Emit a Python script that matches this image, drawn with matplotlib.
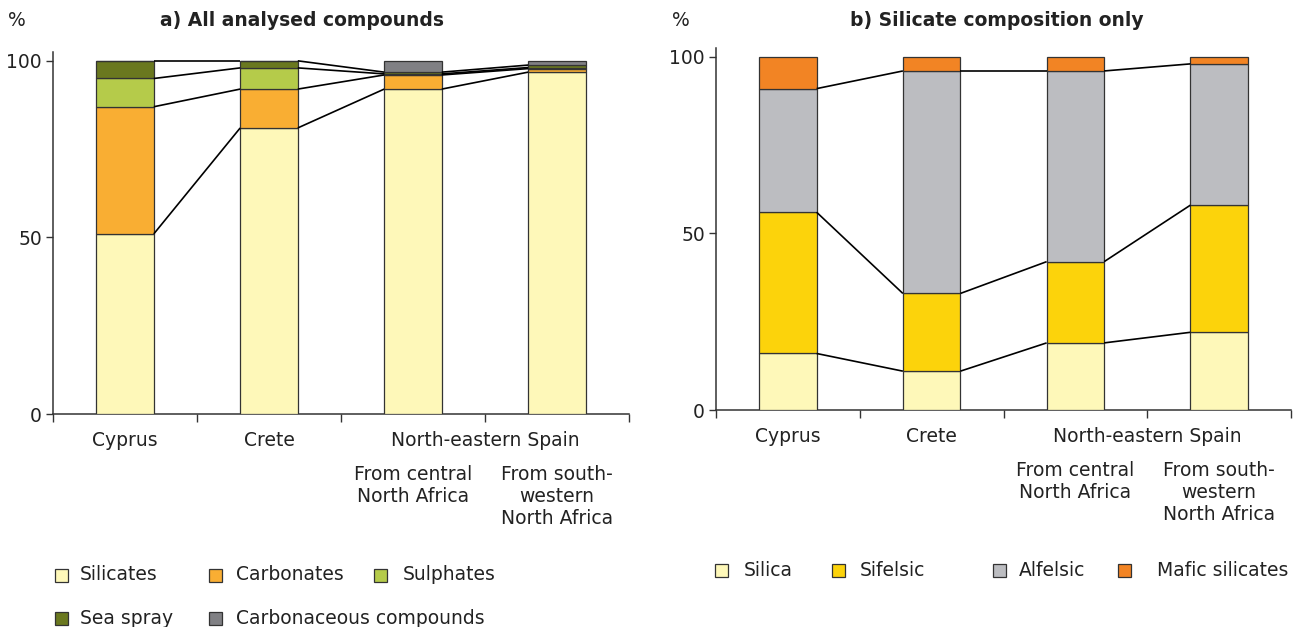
import matplotlib
matplotlib.use("Agg")
import matplotlib.pyplot as plt
from matplotlib.patches import Rectangle
import numpy as np

plt.rcParams['font.family'] = ['DejaVu Sans']

# ---------------- data ----------------
categories = ["Cyprus", "Crete", "From central\nNorth Africa", "From south-\nwestern\nNorth Africa"]
group_label = "North-eastern Spain"

# a) All analysed compounds (%)
silicates     = [51.0, 81.0, 92.0, 96.8]
carbonates    = [36.0, 11.0, 4.0, 1.0]
sulphates     = [8.0, 6.0, 0.3, 0.3]
sea_spray     = [5.0, 2.0, 0.5, 0.7]
carbonaceous  = [0.0, 0.0, 3.2, 1.2]
series_a = [silicates, carbonates, sulphates, sea_spray, carbonaceous]
names_a = ["Silicates", "Carbonates", "Sulphates", "Sea spray", "Carbonaceous compounds"]
colors_a = ["#FEF8B9", "#F9AE33", "#B5CB4A", "#6A781F", "#808084"]

# b) Silicate composition only (%)
silica   = [16.0, 11.0, 19.0, 22.0]
sifelsic = [40.0, 22.0, 23.0, 36.0]
alfelsic = [35.0, 63.0, 54.0, 40.0]
mafic    = [9.0, 4.0, 4.0, 2.0]
series_b = [silica, sifelsic, alfelsic, mafic]
names_b = ["Silica", "Sifelsic", "Alfelsic", "Mafic silicates"]
colors_b = ["#FEF8B9", "#FCD30B", "#BCBDC1", "#F28424"]

yticks = [0, 50, 100]

W, H = 1301, 627
fig = plt.figure(figsize=(W / 100, H / 100), dpi=100)

FS = 13.5
TXT = "#222222"
EDGE = "#333333"
BARW = 0.4


def px_axes(left, right, y0, ytop):
    return [left / W, 1 - y0 / H, (right - left) / W, (y0 - ytop) / H]


def draw(ax, series, colors):
    x = np.arange(len(categories))
    bottom = np.zeros(len(categories))
    tops = []
    for vals, c in zip(series, colors):
        v = np.array(vals)
        ax.bar(x, v, BARW, bottom=bottom, color=c, edgecolor=EDGE, linewidth=0.9, zorder=3)
        bottom = bottom + v
        tops.append(bottom.copy())
    # connector lines between consecutive bars (all boundaries except the last series)
    for t in tops[:-1]:
        for i in range(len(x) - 1):
            ax.plot([x[i] + BARW / 2, x[i + 1] - BARW / 2], [t[i], t[i + 1]],
                    color="black", linewidth=1.2, zorder=4, solid_capstyle="butt")
    ax.set_xlim(-0.5, len(categories) - 0.5)
    ax.set_ylim(0, 102.5)
    ax.set_yticks(yticks)
    ax.set_yticklabels([str(v) for v in yticks], fontsize=FS, color=TXT)
    ax.set_xticks(np.arange(len(categories) + 1) - 0.5)
    ax.set_xticklabels([])
    ax.tick_params(axis="y", length=5, width=1, color="#333333", pad=3)
    ax.tick_params(axis="x", length=6, width=1, color="#333333")
    for s in ["top", "right"]:
        ax.spines[s].set_visible(False)
    for s in ["left", "bottom"]:
        ax.spines[s].set_color("#333333")
        ax.spines[s].set_linewidth(1.1)
    tr = ax.get_xaxis_transform()
    for i in range(2):
        ax.annotate(categories[i], (x[i], 0), xycoords=tr, xytext=(0, -27),
                    textcoords="offset pixels", ha="center", va="center", fontsize=FS, color=TXT)
    ax.annotate(group_label, (2.5, 0), xycoords=tr, xytext=(0, -27),
                textcoords="offset pixels", ha="center", va="center", fontsize=FS, color=TXT)
    for i in range(2, 4):
        ax.annotate(categories[i], (x[i], 0), xycoords=tr, xytext=(0, -51),
                    textcoords="offset pixels", ha="center", va="top", fontsize=FS,
                    color=TXT, linespacing=1.2)


ax_a = fig.add_axes(px_axes(53, 629, 414, 52))
draw(ax_a, series_a, colors_a)
ax_b = fig.add_axes(px_axes(716, 1291, 410, 48))
draw(ax_b, series_b, colors_b)

# titles and unit labels
fig.text(302 / W, 1 - 20 / H, "a) All analysed compounds", ha="center", va="center",
         fontsize=13.5, fontweight="bold", color=TXT)
fig.text(997 / W, 1 - 20 / H, "b) Silicate composition only", ha="center", va="center",
         fontsize=13.5, fontweight="bold", color=TXT)
fig.text(8 / W, 1 - 20 / H, "%", ha="left", va="center", fontsize=FS, color=TXT)
fig.text(672 / W, 1 - 20 / H, "%", ha="left", va="center", fontsize=FS, color=TXT)


def legend_item(xsq, xtxt, yc, label, color):
    s = 13
    fig.patches.append(Rectangle((xsq / W, 1 - (yc + s / 2) / H), s / W, s / H,
                                 transform=fig.transFigure, facecolor=color,
                                 edgecolor=EDGE, linewidth=0.9))
    fig.text(xtxt / W, 1 - yc / H, label, ha="left", va="center", fontsize=FS, color=TXT)


leg_a = [(55, 80, 575), (209, 236, 575), (374, 403, 575), (55, 80, 618), (209, 236, 618)]
for (xs, xt, yc), lab, col in zip(leg_a, names_a, colors_a):
    legend_item(xs, xt, yc, lab, col)

leg_b = [(715, 744, 570), (832, 860, 570), (993, 1019, 570), (1118, 1157, 570)]
for (xs, xt, yc), lab, col in zip(leg_b, names_b, colors_b):
    legend_item(xs, xt, yc, lab, col)

fig.savefig("out.png", dpi=100)
